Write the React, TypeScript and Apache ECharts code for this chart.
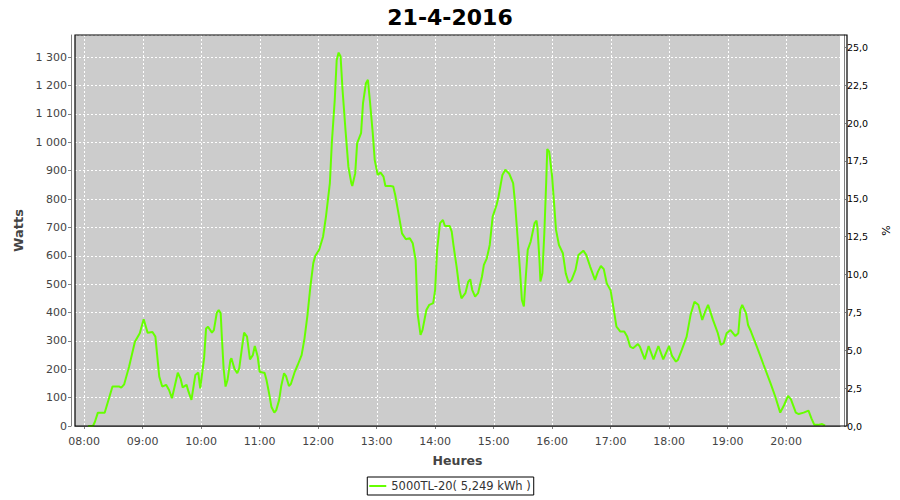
import React, { useEffect, useRef } from "react";
import * as echarts from "echarts";

const chartTitle = "21-4-2016";
const seriesName = "5000TL-20( 5,249 kWh )";
const leftAxisName = "Watts";
const rightAxisName = "%";
const xAxisName = "Heures";
const hourTicks = [8, 9, 10, 11, 12, 13, 14, 15, 16, 17, 18, 19, 20];

// [time, watts]
const morning: [string, number][] = [
  ["08:04", 0], ["08:09", 0], ["08:11", 15], ["08:14", 47], ["08:21", 47], ["08:29", 139],
  ["08:36", 139], ["08:38", 135], ["08:41", 147], ["08:46", 209], ["08:52", 297], ["08:57", 327],
  ["09:01", 376], ["09:05", 329], ["09:10", 331], ["09:13", 315], ["09:17", 174], ["09:20", 139],
  ["09:24", 145], ["09:27", 127], ["09:30", 98], ["09:36", 188], ["09:39", 165], ["09:41", 136],
  ["09:45", 145], ["09:47", 121], ["09:50", 92], ["09:54", 180], ["09:57", 188], ["09:59", 133],
  ["10:03", 240], ["10:05", 344], ["10:07", 350], ["10:11", 329], ["10:13", 338], ["10:16", 399],
  ["10:18", 409], ["10:20", 397], ["10:21", 327], ["10:23", 203], ["10:25", 139], ["10:27", 162],
  ["10:30", 233], ["10:31", 239], ["10:34", 203], ["10:37", 186], ["10:39", 203], ["10:42", 280],
  ["10:44", 329], ["10:47", 315], ["10:50", 235], ["10:53", 250], ["10:55", 282], ["10:58", 244],
  ["11:00", 191], ["11:04", 188], ["11:05", 188], ["11:07", 162], ["11:10", 109], ["11:12", 68],
  ["11:15", 47], ["11:17", 56], ["11:20", 92], ["11:22", 139], ["11:25", 186], ["11:27", 176],
  ["11:30", 141], ["11:32", 148], ["11:36", 191], ["11:39", 215], ["11:43", 250], ["11:46", 309],
  ["11:49", 390], ["11:52", 491], ["11:55", 574], ["11:57", 599],
];
const midday: [string, number][] = [
  ["12:01", 621], ["12:05", 667], ["12:08", 738], ["12:12", 856], ["12:14", 997], ["12:17", 1149],
  ["12:19", 1290], ["12:21", 1316], ["12:23", 1302], ["12:25", 1185], ["12:28", 1044], ["12:31", 914],
  ["12:34", 856], ["12:35", 846], ["12:38", 891], ["12:40", 997], ["12:44", 1032], ["12:46", 1138],
  ["12:49", 1208], ["12:51", 1220], ["12:53", 1149], ["12:56", 1032], ["12:58", 938], ["13:01", 885],
  ["13:04", 893], ["13:07", 879], ["13:09", 846], ["13:14", 846], ["13:17", 844], ["13:19", 815],
  ["13:23", 738], ["13:26", 679], ["13:30", 658], ["13:34", 662], ["13:37", 644], ["13:40", 585],
  ["13:42", 397], ["13:45", 321], ["13:47", 338], ["13:51", 409], ["13:54", 427], ["13:58", 433],
  ["14:00", 480], ["14:02", 621], ["14:05", 715], ["14:08", 726], ["14:10", 705], ["14:15", 705],
  ["14:17", 685], ["14:19", 632], ["14:22", 562], ["14:25", 480], ["14:27", 450], ["14:31", 468],
  ["14:34", 509], ["14:36", 517], ["14:38", 480], ["14:41", 456], ["14:44", 468], ["14:48", 526],
  ["14:50", 568], ["14:53", 591], ["14:56", 638], ["14:59", 738],
];
const afternoon: [string, number][] = [
  ["15:03", 779], ["15:05", 808], ["15:09", 885], ["15:12", 903], ["15:16", 889], ["15:20", 856],
  ["15:22", 785], ["15:25", 644], ["15:27", 550], ["15:29", 444], ["15:31", 421], ["15:33", 526],
  ["15:35", 621], ["15:38", 650], ["15:42", 715], ["15:44", 724], ["15:45", 697], ["15:47", 585],
  ["15:48", 509], ["15:50", 538], ["15:52", 679], ["15:54", 867], ["15:55", 976], ["15:57", 967],
  ["16:00", 879], ["16:02", 785], ["16:04", 691], ["16:07", 638], ["16:11", 609], ["16:14", 538],
  ["16:17", 505], ["16:20", 515], ["16:24", 550], ["16:27", 603], ["16:32", 618], ["16:35", 603],
  ["16:39", 562], ["16:44", 515], ["16:47", 544], ["16:50", 564], ["16:53", 553], ["16:56", 503],
  ["17:00", 478], ["17:03", 415], ["17:06", 350], ["17:10", 333], ["17:14", 333], ["17:17", 315],
  ["17:20", 280], ["17:23", 274], ["17:28", 289], ["17:30", 280], ["17:35", 235], ["17:39", 282],
  ["17:44", 235], ["17:49", 282], ["17:54", 235],
];
const evening: [string, number][] = [
  ["18:00", 282], ["18:03", 247], ["18:07", 227], ["18:09", 233], ["18:13", 268], ["18:18", 315],
  ["18:22", 391], ["18:26", 438], ["18:30", 427], ["18:34", 374], ["18:37", 403], ["18:40", 427],
  ["18:45", 374], ["18:50", 327], ["18:53", 286], ["18:56", 292], ["18:59", 327], ["19:03", 338],
  ["19:08", 317], ["19:11", 327], ["19:13", 409], ["19:15", 427], ["19:19", 397], ["19:21", 356],
  ["19:24", 333], ["19:30", 280], ["19:37", 215], ["19:44", 151], ["19:49", 103], ["19:54", 47],
  ["19:58", 74], ["20:02", 106], ["20:05", 94], ["20:10", 47], ["20:13", 42], ["20:18", 47],
  ["20:23", 54], ["20:26", 27], ["20:29", 4], ["20:33", 4], ["20:37", 7], ["20:40", 1],
];

const toHours = (t: string) => {
  const [h, m] = t.split(":").map(Number);
  return h + m / 60;
};
const pad2 = (n: number) => (n < 10 ? "0" + n : String(n));
const fmtWatts = (v: number) =>
  String(Math.round(v)).replace(/\B(?=(\d{3})+(?!\d))/g, " ");
const fmtPct = (v: number) => v.toFixed(1).replace(".", ",");

const GRID_LEFT = 75;
const GRID_TOP = 35;
const GRID_RIGHT = 53;
const GRID_BOTTOM = 74;

export default function App() {
  const ref = useRef<HTMLDivElement>(null);
  useEffect(() => {
    const chart = echarts.init(ref.current!, null, { renderer: "svg" });
    const data = [...morning, ...midday, ...afternoon, ...evening].map(
      ([t, w]) => [toHours(t), w]
    );
    const font = "DejaVu Sans";
    chart.setOption({
      animation: false,
      backgroundColor: "#ffffff",
      title: {
        text: chartTitle,
        left: "center",
        top: 1,
        textStyle: { fontFamily: font, fontWeight: "bold", fontSize: 22, color: "#000" },
      },
      legend: {
        left: "center",
        top: 477,
        icon: "rect",
        itemWidth: 17,
        itemHeight: 2,
        itemGap: 4,
        padding: [3, 3, 3, 2],
        borderColor: "#000",
        borderWidth: 1,
        textStyle: { fontFamily: font, fontSize: 11.5, color: "#333" },
        data: [seriesName],
      },
      grid: {
        show: true,
        left: GRID_LEFT,
        top: GRID_TOP,
        right: GRID_RIGHT,
        bottom: GRID_BOTTOM,
        backgroundColor: "#cccccc",
        borderColor: "#000",
        borderWidth: 0,
        containLabel: false,
      },
      graphic: [
        {
          type: "rect",
          z: 100,
          silent: true,
          shape: {
            x: GRID_LEFT,
            y: GRID_TOP,
            width: 900 - GRID_LEFT - GRID_RIGHT,
            height: 500 - GRID_TOP - GRID_BOTTOM,
          },
          style: { fill: "none", stroke: "#000", lineWidth: 1.2 },
        },
      ],
      xAxis: {
        type: "value",
        min: 7.8424,
        max: 20.922,
        offset: 4,
        name: xAxisName,
        nameLocation: "middle",
        nameGap: 24,
        nameTextStyle: { fontFamily: font, fontWeight: "bold", fontSize: 12.5, color: "#444" },
        axisLine: { show: true, lineStyle: { color: "#808080", width: 1 } },
        axisTick: { show: true, length: 3, customValues: hourTicks, lineStyle: { color: "#808080" } },
        axisLabel: {
          customValues: hourTicks,
          fontFamily: font,
          fontSize: 11,
          color: "#444",
          margin: 6,
          formatter: (v: number) => pad2(Math.round(v)) + ":00",
        },
        splitLine: { show: false },
      },
      yAxis: [
        {
          type: "value",
          min: 0,
          max: 1378,
          interval: 100,
          offset: 4,
          position: "left",
          name: leftAxisName,
          nameLocation: "middle",
          nameRotate: 90,
          nameGap: 42,
          nameTextStyle: { fontFamily: font, fontWeight: "bold", fontSize: 13, color: "#444" },
          axisLine: { show: true, lineStyle: { color: "#808080", width: 1 } },
          axisTick: { show: true, length: 3, lineStyle: { color: "#808080" } },
          axisLabel: {
            fontFamily: font,
            fontSize: 11,
            color: "#444",
            margin: 4,
            showMaxLabel: false,
            formatter: fmtWatts,
          },
          splitLine: { show: true, lineStyle: { color: "#ffffff", type: [2, 2], width: 1 } },
        },
        {
          type: "value",
          min: 0,
          max: 25.81,
          interval: 2.5,
          offset: 4,
          position: "right",
          name: rightAxisName,
          nameLocation: "middle",
          nameRotate: 90,
          nameGap: 37,
          nameTextStyle: { fontFamily: font, fontSize: 11, color: "#000" },
          axisLine: { show: true, lineStyle: { color: "#808080", width: 1 } },
          axisTick: { show: true, length: 2, lineStyle: { color: "#808080" } },
          axisLabel: {
            fontFamily: font,
            fontSize: 9.5,
            color: "#000",
            margin: 3,
            showMaxLabel: false,
            formatter: fmtPct,
          },
          splitLine: { show: false },
        },
      ],
      series: [
        {
          type: "custom",
          name: "hourGrid",
          silent: true,
          z: 1,
          xAxisIndex: 0,
          yAxisIndex: 0,
          data: hourTicks.map((h) => [h, 0]),
          encode: { x: 0, y: 1 },
          renderItem: (params: any, api: any) => {
            const cs = params.coordSys;
            const x = Math.round(api.coord([api.value(0), 0])[0]) + 0.5;
            return {
              type: "line",
              shape: { x1: x, y1: cs.y, x2: x, y2: cs.y + cs.height },
              style: { stroke: "#ffffff", lineWidth: 1, lineDash: [2, 2] },
            };
          },
        },
        {
          name: seriesName,
          type: "line",
          z: 3,
          yAxisIndex: 0,
          data,
          showSymbol: false,
          symbol: "none",
          lineStyle: { color: "#66ff00", width: 2 },
          itemStyle: { color: "#66ff00" },
        },
      ],
    });
    return () => chart.dispose();
  }, []);
  return (
    <div
      ref={ref}
      style={{ position: "fixed", left: 0, top: 0, width: 900, height: 500 }}
    />
  );
}
